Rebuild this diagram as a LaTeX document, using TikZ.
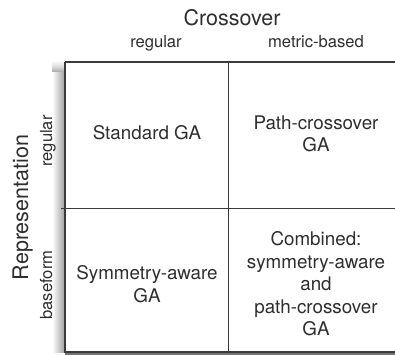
\documentclass[tikz,border=0pt]{standalone}
\usepackage{fontspec}
\setmainfont{TeX Gyre Heros}
\usepackage{tikz}
\usetikzlibrary{positioning,calc}
\definecolor{ink}{HTML}{2E2E2E}
\definecolor{rulecol}{HTML}{3A3A3A}

\begin{document}
\begin{tikzpicture}[
  x=1pt, y=-1pt,
  cell/.style={inner sep=0pt, align=center, text=ink, font=\fontsize{18.8}{22.5}\selectfont},
  head/.style={inner sep=0pt, anchor=base, text=ink, font=\fontsize{21.5}{24}\selectfont},
  sub/.style={inner sep=0pt, anchor=base, text=ink, font=\fontsize{16.6}{19}\selectfont},
  frame/.style={draw=rulecol, line width=1.6pt},
  divider/.style={draw=rulecol, line width=1pt}
]
  \useasboundingbox (0,0) rectangle (395,355);

  \coordinate (tl) at (65,62);
  \coordinate (bl) at (65,352);
  \coordinate (tr) at (395,62);
  \coordinate (br) at (395,352);
  \coordinate (mt) at (228.3,62);
  \coordinate (mb) at (228.3,352);
  \coordinate (ml) at (61,208);
  \coordinate (mr) at (395,208);

  \shade[left color=white, right color=black!35] (52,72) rectangle (64,352);
  \shade[top color=white, bottom color=black!35, middle color=black!12] (52,60) rectangle (64,72);

  \draw[divider] (mt) -- (mb);
  \draw[divider] (ml) -- (mr);
  \draw[frame] (tl) -- (tr);
  \draw[frame] (tl) -- (bl);
  \draw[draw=black!55, line width=3pt] ($(bl)+(0,1.5)$) -- ($(br)+(0,1.5)$);
  \draw[frame] ($(bl)+(-0.8,0)$) -- (br);

  \node[head] (cross) at (232,26) {Crossover};
  \node[sub] (colreg) at (156,48) {regular};
  \node[sub] (colmet) at (316,48) {metric-based};

  \node[head, rotate=90] (repr) at (28,207.5) {Representation};
  \node[sub, rotate=90] (rowreg) at (52,141) {regular};
  \node[sub, rotate=90] (rowbase) at (52,285) {baseform};

  \node[cell] (std) at (147,133) {Standard GA};
  \node[cell] (path) at (316,134) {Path-crossover\\GA};
  \node[cell] (sym) at (147,284) {Symmetry-aware\\GA};
  \node[cell] (comb) at (316,284) {Combined:\\symmetry-aware\\and\\path-crossover\\GA};
\end{tikzpicture}
\end{document}
